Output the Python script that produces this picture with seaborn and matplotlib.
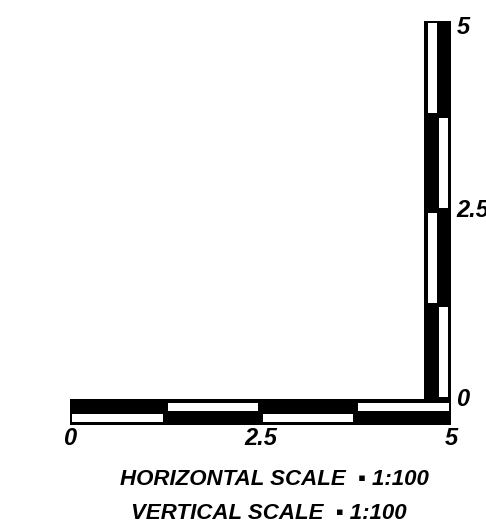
"""
L-shaped scale bar (horizontal + vertical), drawn on one axes.
"""

import matplotlib
matplotlib.use("Agg")
import matplotlib.pyplot as plt
import seaborn as sns

# segment edges of both bars, in scale units
seg_edges = [0, 1.25, 2.5, 3.75, 5]
# which half of each segment is left white
h_white = ["bottom", "top", "bottom", "top"]
v_white = ["right", "left", "right", "left"]

tick_values = [0, 2.5, 5]
tick_labels = ["0", "2.5", "5"]

captions = ["HORIZONTAL SCALE  \u25aa 1:100", "VERTICAL SCALE  \u25aa 1:100"]

sns.set_theme(style="white")
plt.rcParams["font.family"] = ["Liberation Sans", "DejaVu Sans"]
plt.rcParams["text.color"] = "black"

fig = plt.figure(figsize=(4.86, 5.31), dpi=100)
ax = fig.add_axes([0, 0, 1, 1])
ax.set_xlim(-0.919, 5.459)
ax.set_ylim(-1.737, 5.277)
ax.axis("off")

gap = 0.03
starts = seg_edges[:-1]
ends = seg_edges[1:]

# horizontal bar, hanging below y = 0
ax.barh(-0.17, seg_edges[-1] - seg_edges[0], height=0.34, left=seg_edges[0],
        color="black", linewidth=0)
rows = {"top": (-0.15, -0.05), "bottom": (-0.30, -0.195)}
for s, e, side in zip(starts, ends, h_white):
    lo, hi = rows[side]
    ax.barh((lo + hi) / 2, e - s - 2 * gap, height=hi - lo, left=s + gap,
            color="white", linewidth=0)

# vertical bar, standing on the horizontal one at the right end
ax.bar(4.825, seg_edges[-1] - seg_edges[0], width=0.35, bottom=seg_edges[0],
       color="black", linewidth=0)
cols = {"left": (4.70, 4.81), "right": (4.845, 4.96)}
for s, e, side in zip(starts, ends, v_white):
    lo, hi = cols[side]
    ax.bar((lo + hi) / 2, e - s - 2 * gap, width=hi - lo, bottom=s + gap,
           color="white", linewidth=0)

# tick labels
for v, lab in zip(tick_values, tick_labels):
    ax.text(v, -0.51, lab, ha="center", va="center", fontsize=17,
            style="italic", weight="bold")
    ax.text(5.07, min(v, 4.91), lab, ha="left", va="center", fontsize=17,
            style="italic", weight="bold")

# captions
ax.text(2.68, -1.063, captions[0], ha="center", va="center", fontsize=16,
        style="italic", weight="bold")
ax.text(2.61, -1.50, captions[1], ha="center", va="center", fontsize=16,
        style="italic", weight="bold")

fig.savefig("out.png", dpi=100, facecolor="white")
